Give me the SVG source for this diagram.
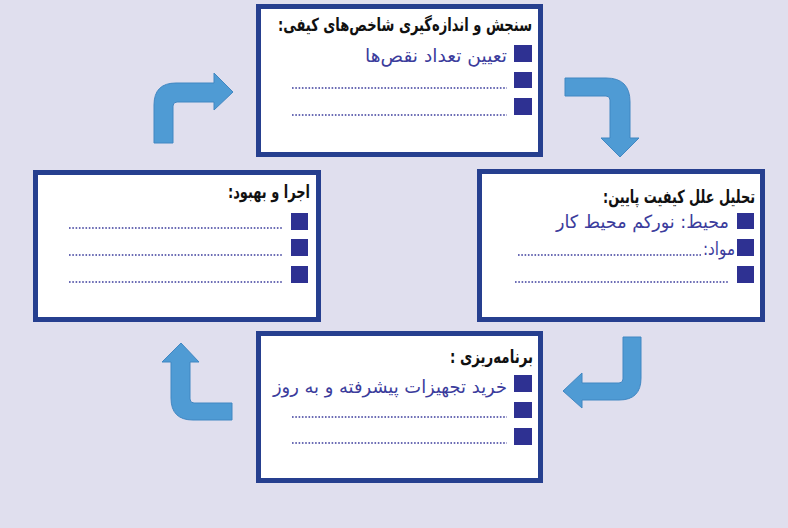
<svg xmlns="http://www.w3.org/2000/svg" width="788" height="528" viewBox="0 0 788 528">
<style>
.box{fill:#ffffff;stroke:#263f8f;stroke-width:5}
.sq{fill:#2e3192}
.ttl{font-family:"DejaVu Sans",sans-serif;font-weight:bold;font-size:18px;fill:#111111;direction:rtl;text-anchor:start}
.itm{font-family:"DejaVu Sans",sans-serif;font-size:18px;fill:#3b3c9c;direction:rtl;text-anchor:start}
.dot{stroke:#3b3c9c;stroke-width:1.6;stroke-dasharray:1.6 1.7;fill:none}
.arr{fill:#4f9bd4;stroke:#4187c2;stroke-width:1}
</style>
<rect x="0" y="0" width="788" height="528" fill="#e0dfee"/>
<g id="connectors">
<path class="arr" d="M154,143 L154,105 Q154,83 176,83 L214,83 L214,73 L233,92 L214,110 L214,102 L177,102 Q173,102 173,106 L173,143 Z"/>
<path class="arr" d="M565,78 L606,78 Q630,78 630,102 L630,138 L639,138 L620,157 L601,138 L610,138 L610,100 Q610,96 606,96 L565,96 Z"/>
<path class="arr" d="M623,337 L641,337 L641,378 Q641,400 619,400 L582,400 L582,408 L563,391 L582,373 L582,383 L619,383 Q623,383 623,379 Z"/>
<path class="arr" d="M232,403 L194,403 Q190,403 190,399 L190,362 L199,362 L181,343 L162,362 L171,362 L171,398 Q171,420 193,420 L232,420 Z"/>
</g>
<g id="measure">
<rect class="box" x="258.5" y="6.5" width="282" height="148"/>
<text class="ttl" x="532" y="31" textLength="254" lengthAdjust="spacingAndGlyphs">سنجش و اندازه‌گیری شاخص‌های کیفی:</text>
<rect class="sq" x="514" y="45" width="18" height="17"/>
<rect class="sq" x="514" y="72" width="18" height="16"/>
<rect class="sq" x="514" y="98" width="18" height="17"/>
<text class="itm" x="507" y="62" textLength="142" lengthAdjust="spacingAndGlyphs">تعیین تعداد نقص‌ها</text>
<line class="dot" x1="292" y1="88" x2="507" y2="88"/>
<line class="dot" x1="292" y1="115" x2="507" y2="115"/>
</g>
<g id="analyze">
<rect class="box" x="479.5" y="171.5" width="283" height="148"/>
<text class="ttl" x="755" y="203" textLength="152" lengthAdjust="spacingAndGlyphs">تحلیل علل کیفیت پایین:</text>
<rect class="sq" x="737" y="213" width="17" height="16"/>
<rect class="sq" x="737" y="239" width="17" height="17"/>
<rect class="sq" x="737" y="266" width="17" height="17"/>
<text class="itm" x="729" y="228" textLength="173" lengthAdjust="spacingAndGlyphs">محیط: نورکم محیط کار</text>
<text class="itm" x="735" y="255" textLength="32" lengthAdjust="spacingAndGlyphs">مواد:</text>
<line class="dot" x1="518" y1="255" x2="701" y2="255"/>
<line class="dot" x1="515" y1="282" x2="728" y2="282"/>
</g>
<g id="plan">
<rect class="box" x="258.5" y="333.5" width="282" height="147"/>
<text class="ttl" x="533" y="363" textLength="83" lengthAdjust="spacingAndGlyphs">برنامه‌ریزی :</text>
<rect class="sq" x="514" y="375" width="18" height="17"/>
<rect class="sq" x="514" y="402" width="18" height="16"/>
<rect class="sq" x="514" y="428" width="18" height="17"/>
<text class="itm" x="507" y="393" textLength="234" lengthAdjust="spacingAndGlyphs">خرید تجهیزات پیشرفته و به روز</text>
<line class="dot" x1="292" y1="417" x2="507" y2="417"/>
<line class="dot" x1="292" y1="443" x2="507" y2="443"/>
</g>
<g id="implement">
<rect class="box" x="35.5" y="172.5" width="283" height="147"/>
<text class="ttl" x="310" y="198" textLength="82" lengthAdjust="spacingAndGlyphs">اجرا و بهبود:</text>
<rect class="sq" x="291" y="213" width="17" height="17"/>
<rect class="sq" x="291" y="239" width="17" height="17"/>
<rect class="sq" x="291" y="266" width="17" height="17"/>
<line class="dot" x1="69" y1="228" x2="283" y2="228"/>
<line class="dot" x1="69" y1="255" x2="283" y2="255"/>
<line class="dot" x1="69" y1="282" x2="283" y2="282"/>
</g>
</svg>
